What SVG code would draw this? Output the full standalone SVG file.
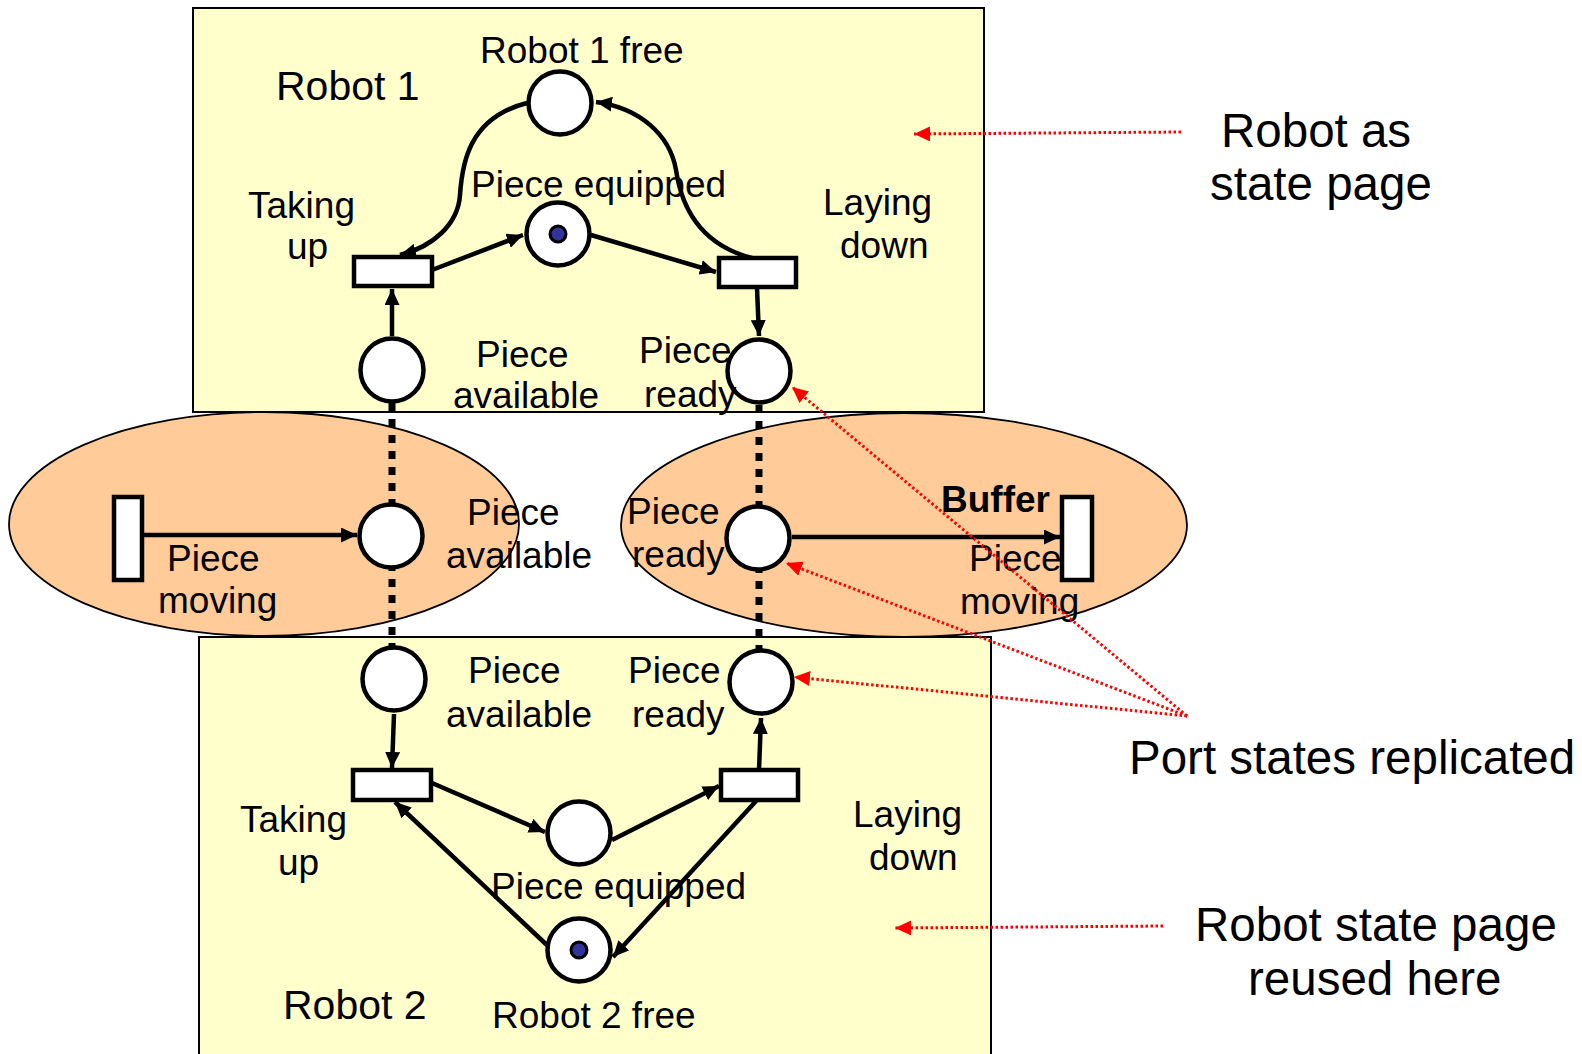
<svg xmlns="http://www.w3.org/2000/svg" width="1582" height="1054" viewBox="0 0 1582 1054">
  <style>
    .page { fill: #FFFFCC; stroke: #000; stroke-width: 2; }
    .port { fill: #FFCC99; stroke: #000; stroke-width: 1.8; }
    .place { fill: #fff; stroke: #000; stroke-width: 4.5; }
    .token { fill: #333399; stroke: #000; stroke-width: 3; }
    .trans { fill: #fff; stroke: #000; stroke-width: 4.5; }
    .arc { fill: none; stroke: #000; stroke-width: 4.5; marker-end: url(#arrow); }
    .link { fill: none; stroke: #000; stroke-width: 7; stroke-dasharray: 8 8; }
    .note { fill: none; stroke: #FF0000; stroke-width: 3; stroke-dasharray: 2.5 2.5; marker-end: url(#redArrow); }
    text { font-family: "Liberation Sans", Arial, sans-serif; fill: #000; }
    .lbl { font-size: 37px; }
    .big { font-size: 41px; }
    .ann { font-size: 47.5px; }
    .bold { font-weight: bold; }
  </style>
  <defs>
    <marker id="arrow" markerUnits="userSpaceOnUse" markerWidth="17" markerHeight="15" refX="16" refY="7.5" orient="auto">
      <path d="M0,0 L16,7.5 L0,15 z" fill="#000"/>
    </marker>
    <marker id="redArrow" markerUnits="userSpaceOnUse" markerWidth="17" markerHeight="15" refX="16" refY="7.5" orient="auto">
      <path d="M0,0 L16,7.5 L0,15 z" fill="#FF0000"/>
    </marker>
  </defs>

  <!-- state pages -->
  <g id="page-robot1"><rect class="page" x="193" y="8" width="791" height="404"/></g>
  <g id="page-robot2"><rect class="page" x="199" y="637" width="792" height="430"/></g>

  <!-- port areas -->
  <g id="area-left"><ellipse class="port" cx="264" cy="524" rx="255" ry="112"/></g>
  <g id="area-buffer"><ellipse class="port" cx="904" cy="525" rx="283" ry="112"/></g>

  <!-- connectors -->
  <g id="connectors">
    <!-- replicated port links -->
    <line class="link" x1="392" y1="403" x2="392" y2="648"/>
    <line class="link" x1="759" y1="405" x2="759" y2="650"/>
    <!-- robot 1 -->
    <path class="arc" d="M392,336 L392,289"/>
    <path class="arc" d="M432,270 L523,235"/>
    <path class="arc" d="M591,235 L716,272"/>
    <path class="arc" d="M757,288 L759,336"/>
    <path class="arc" d="M527,103 C468,118 462,165 460,195 C458,225 432,247 400,255"/>
    <path class="arc" d="M752,258 C702,245 682,210 676,170 C670,135 640,108 596,102"/>
    <!-- ports -->
    <path class="arc" d="M142,535 L357,535"/>
    <path class="arc" d="M792,537 L1060,537"/>
    <!-- robot 2 -->
    <path class="arc" d="M394,714 L392,768"/>
    <path class="arc" d="M432,783 L545,832"/>
    <path class="arc" d="M612,840 L719,786"/>
    <path class="arc" d="M759,770 L761,718"/>
    <path class="arc" d="M757,800 L613,957"/>
    <path class="arc" d="M549,947 L395,802"/>
  </g>

  <!-- robot 1 net -->
  <g id="r1-free"><circle class="place" cx="560" cy="103" r="31.5"/></g>
  <g id="r1-equipped"><circle class="place" cx="558" cy="234" r="31.5"/><circle class="token" cx="558" cy="234" r="8"/></g>
  <g id="r1-available"><circle class="place" cx="392" cy="370" r="31.5"/></g>
  <g id="r1-ready"><circle class="place" cx="759" cy="371" r="31.5"/></g>
  <g id="r1-taking"><rect class="trans" x="354" y="257" width="78" height="29"/></g>
  <g id="r1-laying"><rect class="trans" x="719" y="258" width="77" height="29"/></g>

  <!-- port nets -->
  <g id="port-available"><circle class="place" cx="391" cy="536" r="31.5"/></g>
  <g id="port-ready"><circle class="place" cx="758" cy="538" r="31.5"/></g>
  <g id="port-moving-in"><rect class="trans" x="114" y="497" width="28" height="83"/></g>
  <g id="port-moving-out"><rect class="trans" x="1062" y="497" width="30" height="83"/></g>

  <!-- robot 2 net -->
  <g id="r2-available"><circle class="place" cx="394" cy="679" r="31.5"/></g>
  <g id="r2-ready"><circle class="place" cx="761" cy="682" r="31.5"/></g>
  <g id="r2-equipped"><circle class="place" cx="579" cy="833" r="31.5"/></g>
  <g id="r2-free"><circle class="place" cx="579" cy="950" r="31.5"/><circle class="token" cx="579" cy="950" r="8"/></g>
  <g id="r2-taking"><rect class="trans" x="353" y="770" width="78" height="30"/></g>
  <g id="r2-laying"><rect class="trans" x="721" y="770" width="77" height="30"/></g>

  <!-- labels -->
  <g id="labels">
    <text class="big" x="276" y="100">Robot 1</text>
    <text class="lbl" x="480" y="63">Robot 1 free</text>
    <text class="lbl" x="471" y="197">Piece equipped</text>
    <text class="lbl" x="248" y="218">Taking</text>
    <text class="lbl" x="287" y="259">up</text>
    <text class="lbl" x="823" y="215">Laying</text>
    <text class="lbl" x="840" y="258">down</text>
    <text class="lbl" x="476" y="367">Piece</text>
    <text class="lbl" x="453" y="408">available</text>
    <text class="lbl" x="639" y="363">Piece</text>
    <text class="lbl" x="644" y="407">ready</text>

    <text class="lbl" x="467" y="525">Piece</text>
    <text class="lbl" x="446" y="568">available</text>
    <text class="lbl" x="167" y="571">Piece</text>
    <text class="lbl" x="158" y="613">moving</text>
    <text class="lbl" x="627" y="524">Piece</text>
    <text class="lbl" x="632" y="567">ready</text>
    <text class="lbl bold" x="941" y="512">Buffer</text>
    <text class="lbl" x="969" y="571">Piece</text>
    <text class="lbl" x="960" y="614">moving</text>

    <text class="lbl" x="468" y="683">Piece</text>
    <text class="lbl" x="446" y="727">available</text>
    <text class="lbl" x="628" y="683">Piece</text>
    <text class="lbl" x="632" y="727">ready</text>
    <text class="lbl" x="240" y="832">Taking</text>
    <text class="lbl" x="278" y="875">up</text>
    <text class="lbl" x="853" y="827">Laying</text>
    <text class="lbl" x="869" y="870">down</text>
    <text class="lbl" x="491" y="899">Piece equipped</text>
    <text class="big" x="283" y="1019">Robot 2</text>
    <text class="lbl" x="492" y="1028">Robot 2 free</text>
  </g>

  <!-- annotations -->
  <g id="annotations">
    <path class="note" d="M1181,132 L914,134"/>
    <path class="note" d="M1163,926 L895,928"/>
    <path class="note" d="M1187,716 L792,387"/>
    <path class="note" d="M1187,716 L786,563"/>
    <path class="note" d="M1187,716 L794,677"/>
    <text class="ann" x="1221" y="147">Robot as</text>
    <text class="ann" x="1210" y="200">state page</text>
    <text class="ann" x="1129" y="774">Port states replicated</text>
    <text class="ann" x="1195" y="941">Robot state page</text>
    <text class="ann" x="1248" y="995">reused here</text>
  </g>
</svg>
